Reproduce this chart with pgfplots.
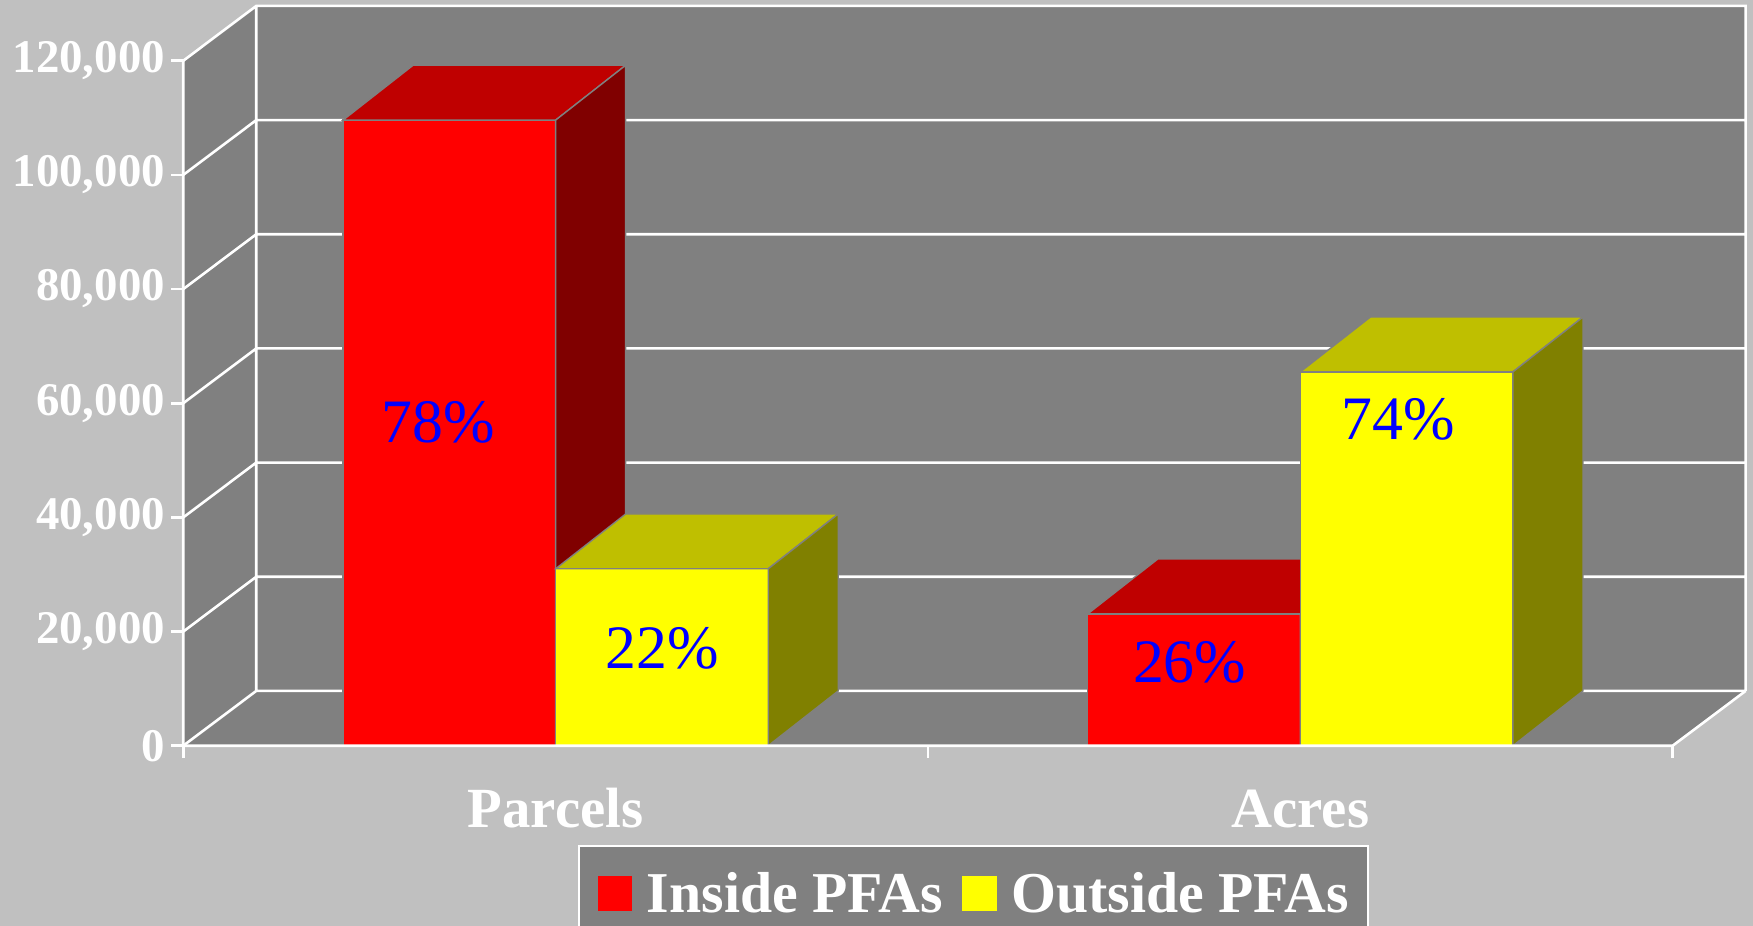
\documentclass[border=0pt]{standalone}
\usepackage{pgfplots}
\pgfplotsset{compat=1.18}
\usepackage{fontspec}
\setmainfont{Liberation Serif}
\definecolor{bgc}{HTML}{C0C0C0}
\definecolor{wallc}{HTML}{808080}
\definecolor{redfront}{HTML}{FF0000}
\definecolor{redtop}{HTML}{BF0000}
\definecolor{redside}{HTML}{800000}
\definecolor{yelfront}{HTML}{FFFF00}
\definecolor{yeltop}{HTML}{BFBF00}
\definecolor{yelside}{HTML}{808000}
\definecolor{edgec}{HTML}{808080}
\definecolor{labblue}{HTML}{0000FF}
\begin{document}
\begin{tikzpicture}
\fill[bgc] (-91.65bp,-90.15bp) rectangle (784.85bp,372.85bp);
\begin{axis}[
  at={(0,0)}, anchor=south west,
  scale only axis, width=781.19bp, height=369.88bp,
  xmin=0, xmax=2.098, ymin=0, ymax=129600,
  clip=false, axis line style={draw=none},
  tick pos=left, tick align=outside, major tick length=6bp,
  tick style={draw=white, line width=1.3bp},
  ytick={0,20000,40000,60000,80000,100000,120000},
  yticklabels={0,{20,000},{40,000},{60,000},{80,000},{100,000},{120,000}},
  scaled y ticks=false,
  yticklabel style={font=\bfseries\fontsize{23.5}{23.5}\selectfont, text=white, anchor=east, inner sep=0pt, xshift=-3bp},
  xtick={0,1,2}, xticklabels={{},{},{}},
  extra x ticks={0.5,1.5}, extra x tick labels={Parcels,Acres},
  extra x tick style={major tick length=0pt},
  xticklabel style={font=\bfseries\fontsize{28.5}{28.5}\selectfont, text=white, anchor=base, yshift=-40.65bp},
  legend style={at={(0.2526,-0.1342)}, anchor=north west, fill=wallc, draw=white, line width=1bp, text=white, font=\bfseries\fontsize{29}{29}\selectfont, legend columns=2, inner xsep=9.5bp, inner ysep=13bp, nodes={inner sep=0pt}, /tikz/every odd column/.append style={column sep=7.3bp}, /tikz/every even column/.append style={column sep=9.8bp}},
  legend cell align=left,
]
% walls and floor
\addplot[fill=wallc, draw=none, forget plot] coordinates {(0.098,9600) (2.098,9600) (2.098,129600) (0.098,129600)} -- cycle;
\addplot[fill=wallc, draw=none, forget plot] coordinates {(0,0) (0,120000) (0.098,129600) (0.098,9600)} -- cycle;
\addplot[fill=wallc, draw=none, forget plot] coordinates {(0,0) (2,0) (2.098,9600) (0.098,9600)} -- cycle;
% grid lines on left wall and back wall
\addplot[white, line width=1.3bp, unbounded coords=jump, forget plot] coordinates {
 (0,0) (0.098,9600) (2.098,9600) (nan,nan)
 (0,20000) (0.098,29600) (2.098,29600) (nan,nan)
 (0,40000) (0.098,49600) (2.098,49600) (nan,nan)
 (0,60000) (0.098,69600) (2.098,69600) (nan,nan)
 (0,80000) (0.098,89600) (2.098,89600) (nan,nan)
 (0,100000) (0.098,109600) (2.098,109600) (nan,nan)
 (0,120000) (0.098,129600) (2.098,129600) (2.098,9600) (nan,nan)
 (0.098,9600) (0.098,129600)
};
% Inside PFAs (red)
\addplot[ybar, bar width=0.2855, bar shift=-0.14275, fill=redfront, draw=edgec, line width=0.7bp,
  legend image code/.code={\fill[redfront] (0bp,-8.25bp) rectangle (16.5bp,8.25bp);}]
  coordinates {(0.5,109600) (1.5,23100)};
\addlegendentry{Inside PFAs}
\addplot[fill=redtop, draw=edgec, line width=0.7bp, forget plot] coordinates {(0.2145,109600) (0.5,109600) (0.594,119200) (0.3085,119200)} -- cycle;
\addplot[fill=redside, draw=edgec, line width=0.7bp, forget plot] coordinates {(0.5,0) (0.594,9600) (0.594,119200) (0.5,109600)} -- cycle;
\addplot[fill=redtop, draw=edgec, line width=0.7bp, forget plot] coordinates {(1.2145,23100) (1.5,23100) (1.594,32700) (1.3085,32700)} -- cycle;
\addplot[fill=redside, draw=edgec, line width=0.7bp, forget plot] coordinates {(1.5,0) (1.594,9600) (1.594,32700) (1.5,23100)} -- cycle;
% Outside PFAs (yellow)
\addplot[ybar, bar width=0.2855, bar shift=0.14275, fill=yelfront, draw=edgec, line width=0.7bp,
  legend image code/.code={\fill[yelfront] (0bp,-8.25bp) rectangle (16.5bp,8.25bp);}]
  coordinates {(0.5,31000) (1.5,65500)};
\addlegendentry{Outside PFAs}
\addplot[fill=yeltop, draw=edgec, line width=0.7bp, forget plot] coordinates {(0.5,31000) (0.7855,31000) (0.8795,40600) (0.594,40600)} -- cycle;
\addplot[fill=yelside, draw=edgec, line width=0.7bp, forget plot] coordinates {(0.7855,0) (0.8795,9600) (0.8795,40600) (0.7855,31000)} -- cycle;
\addplot[fill=yeltop, draw=edgec, line width=0.7bp, forget plot] coordinates {(1.5,65500) (1.7855,65500) (1.8795,75100) (1.594,75100)} -- cycle;
\addplot[fill=yelside, draw=edgec, line width=0.7bp, forget plot] coordinates {(1.7855,0) (1.8795,9600) (1.8795,75100) (1.7855,65500)} -- cycle;
% front axis lines and floor edge
\addplot[white, line width=1.3bp, forget plot] coordinates {
 (0,120000) (0,0) (2,0) (2.098,9600)
};
% percentage labels
\addplot[only marks, mark=none, point meta=explicit symbolic,
  nodes near coords, nodes near coords style={anchor=center, text=labblue, font=\fontsize{31}{31}\selectfont}, forget plot]
  coordinates {(0.3424,56600)[78\%] (0.6427,17050)[22\%] (1.3513,14680)[26\%] (1.631,57240)[74\%]};
\end{axis}
\pgfresetboundingbox
\useasboundingbox (-91.65bp,-90.15bp) rectangle (784.85bp,372.85bp);
\end{tikzpicture}
\end{document}
